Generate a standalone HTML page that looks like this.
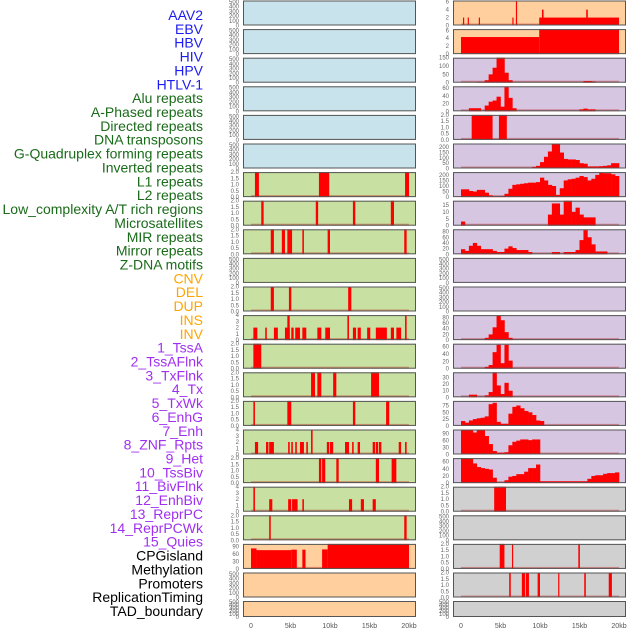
<!DOCTYPE html>
<html><head><meta charset="utf-8"><style>
html,body{margin:0;padding:0;background:#fff;}
svg{display:block;font-family:"Liberation Sans",sans-serif;}
</style></head><body>
<svg id="chart" width="630" height="630" viewBox="0 0 630 630" xmlns="http://www.w3.org/2000/svg"></svg>
<script>
// ---------- data ----------
const trackLabels = ["AAV2","EBV","HBV","HIV","HPV","HTLV-1","Alu repeats","A-Phased repeats","Directed repeats","DNA transposons","G-Quadruplex forming repeats","Inverted repeats","L1 repeats","L2 repeats","Low_complexity A/T rich regions","Microsatellites","MIR repeats","Mirror repeats","Z-DNA motifs","CNV","DEL","DUP","INS","INV","1_TssA","2_TssAFlnk","3_TxFlnk","4_Tx","5_TxWk","6_EnhG","7_Enh","8_ZNF_Rpts","9_Het","10_TssBiv","11_BivFlnk","12_EnhBiv","13_ReprPC","14_ReprPCWk","15_Quies","CPGisland","Methylation","Promoters","ReplicationTiming","TAD_boundary"];
const labelGroups = [6,13,5,15,5];
const xTickValues = [0,5,10,15,20];
const xTickLabels = ["0","5kb","10kb","15kb","20kb"];
const emptyTicks = [0,100,200,300,400,500];
const binTicks = [0,0.5,1,1.5,2];
const binTickLabels = ["0.0","0.5","1.0","1.5","2.0"];
const fourTicks = [0,1,2,3,4];

// middle column interval tracks [startKb, endKb, value]
const m6 = [[0.5,1.0,2],[8.6,9.9,2],[19.5,20.0,2]];
const m7 = [[1.3,1.6,2],[8.2,8.5,2],[12.9,13.2,2],[17.7,18.1,2]];
const m8 = [[2.5,2.9,2],[3.9,4.3,2],[4.6,5.2,2],[6.5,6.7,2],[9.7,10.0,2],[19.4,19.7,2]];
const m10 = [[2.5,2.9,2],[4.8,5.1,2],[12.3,12.7,2]];
const m11 = [[0.3,0.8,2],[1.8,2.0,2],[2.9,3.4,2],[4.3,4.9,2],[4.6,4.9,4],[5.1,5.4,2],[5.6,6.2,2],[6.5,7.0,2],[8.4,8.9,2],[9.4,10.0,2],[12.2,12.4,4],[12.9,13.3,2],[13.5,13.9,2],[14.7,15.1,2],[15.8,17.2,2],[17.7,18.1,2],[18.4,19.0,2],[19.5,19.7,4]];
const m12 = [[0.3,1.3,2]];
const m13 = [[7.6,8.1,2],[8.4,8.9,2],[10.4,10.8,2],[15.2,16.2,2]];
const m14 = [[0.3,0.5,2],[4.6,5.1,2],[12.9,13.2,2],[17.1,17.5,2]];
const m15 = [[0.5,0.9,2],[1.9,2.2,2],[2.3,2.9,2],[4.7,4.9,2],[5.1,5.3,2],[5.6,5.8,2],[6.2,6.7,2],[7.0,7.2,2],[7.6,7.8,4],[9.6,9.9,2],[10.0,10.4,2],[11.9,12.4,2],[12.8,13.0,2],[13.5,13.8,2],[15.4,15.7,2],[15.8,16.1,2],[16.2,16.5,2],[18.7,19.0,2],[19.5,19.7,2]];
const m16 = [[8.6,8.9,2],[9.0,9.4,2],[10.8,11.1,2],[15.8,16.2,2],[17.8,18.4,2]];
const m17 = [[0.3,0.5,4],[2.3,2.7,2],[4.7,5.1,2],[5.2,5.9,2],[6.5,6.7,2],[12.4,12.8,2],[13.9,14.3,2],[15.4,15.8,2]];
const m18 = [[2.3,2.5,2],[19.4,19.7,2]];
const m19 = [[0,0.7,82],[0.7,5.1,75],[5.1,5.8,77],[6.5,6.9,77],[9.0,9.7,78],[9.7,20.0,100]];

// right column interval tracks
const r0 = [[0.25,0.4,2],[0.85,1.0,2],[2.25,2.4,2],[6.5,6.65,2],[6.95,7.1,6.3],[9.9,20.0,2],[10.25,10.45,4],[15.85,16.05,4]];
const r1 = [[0,9.9,4.3],[9.9,20.0,6.3]];
const r4 = [[1.35,4.0,2],[4.8,5.8,2]];
const r17 = [[4.2,5.7,2]];
const r19 = [[4.9,5.5,2],[6.45,6.6,2],[14.85,15.05,2]];
const r20 = [[6.1,6.3,2],[7.7,8.1,2],[8.2,8.6,2],[9.7,10.0,2],[12.3,12.45,2],[15.6,15.8,2],[18.7,19.1,2]];

// right column profile tracks: values per 0.5kb bin from 0 to 20kb
const r2 = [0,0,0,0,5,5,15,50,90,150,150,60,15,0,0,0,0,0,0,0,0,0,0,0,0,0,0,0,0,0,0,10,10,8,0,0,0,0,0,0];
const r3 = [0,0,8,8,8,0,15,25,28,38,12,63,35,8,0,0,0,0,0,0,0,0,0,0,0,0,0,0,0,0,5,7,5,5,0,0,0,0,0,0];
const r5 = [0,0,0,0,0,0,0,0,0,0,0,0,0,0,0,0,0,8,15,25,60,110,160,230,230,150,90,85,85,80,50,45,20,20,20,22,25,30,50,50];
const r6 = [70,70,55,50,65,65,40,15,3,3,10,30,75,110,115,120,125,130,130,135,175,150,110,100,20,80,150,160,165,175,190,180,150,165,200,220,215,215,205,190];
const r7 = [3,0,0,0,0,0,0,0,0,0,0,0,0,0,0,0,0,0,0,0,0,0,8,16,16,8,18,18,10,13,8,6,6,6,0,0,0,0,0,0];
const r8 = [18,12,30,40,30,18,18,18,12,8,8,20,28,22,15,15,15,8,0,0,0,0,0,8,8,0,8,8,8,15,50,85,60,35,10,10,10,0,0,0];
const r11 = [0,0,0,0,0,0,8,20,45,85,70,28,8,0,0,0,0,0,0,0,0,0,0,0,0,0,0,0,0,0,0,0,0,0,0,0,0,0,0,0];
const r12 = [0,0,0,0,0,0,5,10,45,65,15,65,22,0,0,0,0,0,0,0,0,0,0,0,0,0,0,0,0,0,0,0,0,0,0,0,0,0,0,0];
const r13 = [0,0,4,4,0,0,3,8,38,18,5,22,10,0,0,0,0,0,0,0,0,0,0,0,0,0,0,0,0,0,0,0,0,0,0,0,0,0,0,0];
const r14 = [18,12,20,25,28,30,35,80,85,15,8,8,45,70,75,65,55,50,40,20,18,0,0,0,0,0,0,0,0,0,0,0,0,0,0,0,0,0,0,0];
const r15 = [105,105,105,95,105,105,80,45,15,8,8,10,40,55,60,65,65,62,65,65,0,0,0,0,0,0,0,0,0,0,0,0,0,0,0,0,0,0,0,0];
const r16 = [70,70,68,55,45,42,40,38,15,0,0,8,18,20,25,25,32,42,42,52,5,5,5,5,5,5,5,5,5,5,5,5,12,20,22,22,26,28,28,30];

// ---------- layout ----------
const BG = {blue:"#c8e3eb", green:"#c8e0a2", orange:"#ffd09e", purple:"#d6c6e2", gray:"#d0d0d0"};
const midBg = ["blue","blue","blue","blue","blue","blue","green","green","green","green","green","green","green","green","green","green","green","green","green","orange","orange","orange"];
const rightBg = ["orange","orange","purple","purple","purple","purple","purple","purple","purple","purple","purple","purple","purple","purple","purple","purple","purple","gray","gray","gray","gray","gray"];
const midTracks = {6:m6,7:m7,8:m8,10:m10,11:m11,12:m12,13:m13,14:m14,15:m15,16:m16,17:m17,18:m18,19:m19};
const rightIntervals = {0:r0,1:r1,4:r4,17:r17,19:r19,20:r20};
const rightBins = {2:r2,3:r3,5:r5,6:r6,7:r7,8:r8,11:r11,12:r12,13:r13,14:r14,15:r15,16:r16};
const yInfo = {
 mid:{11:[4,fourTicks],15:[4,fourTicks],17:[4,fourTicks],19:[100,[0,30,60,90]]},
 right:{0:[6.3,[0,2,4,6]],1:[6.3,[0,2,4,6]],2:[150,[0,50,100,150]],3:[65,[0,20,40,60]],5:[235,[0,50,100,150,200]],6:[225,[0,50,100,150,200]],7:[18,[0,5,10,15]],8:[88,[0,20,40,60,80]],11:[88,[0,20,40,60,80]],12:[68,[0,20,40,60]],13:[38,[0,10,20,30]],14:[92,[0,25,50,75]],15:[108,[0,30,60,90]],16:[70,[0,20,40,60]]}
};

const NS = "http://www.w3.org/2000/svg";
const svg = document.getElementById("chart");
function mk(tag, attrs, parent){const e=document.createElementNS(NS,tag);for(const k in attrs)e.setAttribute(k,attrs[k]);(parent||svg).appendChild(e);return e;}

// labels
const groupColors = ["#1c1cf0","#1a6b1a","#ffa500","#a030f0","#000000"];
let li=0;
labelGroups.forEach((n,g)=>{for(let k=0;k<n;k++){const t=mk("text",{x:203,y:15+13.86*li,"text-anchor":"end","dominant-baseline":"central","font-size":"14",fill:groupColors[g]});


t.textContent=trackLabels[li];li++;}});

const COLS = [{x0:243,x1:416,z:251,key:"mid"},{x0:453,x1:626,z:461,key:"right"}];
const KB = 7.9;
function xs(col,kb){return col.z+kb*KB;}

for(let r=0;r<22;r++){
  const top = r<21 ? 28.6*r+0.5 : 601;
  const h = r<21 ? 25 : 16;
  COLS.forEach((col,ci)=>{
    const g = mk("g",{});
    
    
    const bgKey = ci===0?midBg[r]:rightBg[r];
    mk("rect",{x:col.x0,y:top,width:col.x1-col.x0,height:h,fill:BG[bgKey]},g);
    let ymax=530, ticks=emptyTicks, tlabels=null, has=false;
    const info = yInfo[col.key][r];
    const iv = ci===0?midTracks[r]:rightIntervals[r];
    const bins = ci===0?null:rightBins[r];
    if(iv||bins){has=true; ymax=2; ticks=binTicks; tlabels=binTickLabels;}
    if(info){ymax=info[0]; ticks=info[1]; tlabels=null;}
    const ys = v=>top+h-Math.min(v,ymax)/ymax*h;
    if(has){
      mk("rect",{x:xs(col,0),y:top+h-2,width:20*KB,height:2,fill:"rgba(190,0,0,0.35)"},g);
    }
    if(iv){iv.forEach(d=>{
      const b=mk("rect",{x:xs(col,d[0]),y:ys(d[2]),width:Math.max(1.2,(d[1]-d[0])*KB),height:top+h-ys(d[2]),fill:"#ff0000"},g);
      
      
    });}
    if(bins){bins.forEach((v,i)=>{ if(v<=0) return;
      const b=mk("rect",{x:xs(col,i*0.5),y:ys(v),width:0.5*KB+0.3,height:top+h-ys(v),fill:"#ff0000"},g);
      
      
    });}
    mk("rect",{x:col.x0+0.5,y:top+0.5,width:col.x1-col.x0-1,height:h-1,fill:"none",stroke:"#555",'stroke-width':1},g);
    ticks.forEach((tv,ti)=>{
      const t=mk("text",{x:col.x0-4,y:ys(tv)+2,"text-anchor":"end","font-size":"6",fill:"#666"},g);
      
      
      t.textContent = tlabels?tlabels[ti]:String(tv);
    });
  });
}
// x axis labels
COLS.forEach(col=>{
  xTickValues.forEach((v,i)=>{
    const t=mk("text",{x:xs(col,v),y:628,"text-anchor":"middle","font-size":"7",fill:"#555"});
    
    
    t.textContent=xTickLabels[i];
  });
});
</script>
</body></html>
